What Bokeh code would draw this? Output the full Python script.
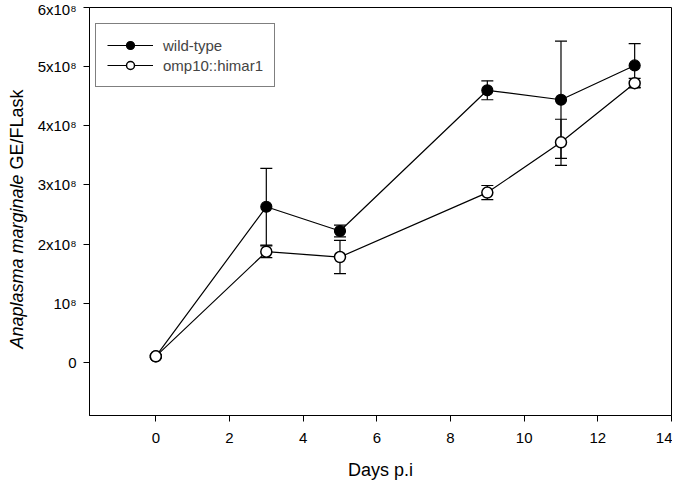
from bokeh.plotting import figure
from bokeh.models import (ColumnDataSource, Whisker, TeeHead, FixedTicker, Legend,
                          LegendItem, Range1d, Div)
from bokeh.layouts import row
from bokeh.embed import file_html
from bokeh.resources import INLINE

days = [0, 3, 5, 9, 11, 13]
wt_mean = [0.10e8, 2.63e8, 2.22e8, 4.60e8, 4.44e8, 5.02e8]
wt_err = [0.02e8, 0.65e8, 0.10e8, 0.16e8, 0.99e8, 0.37e8]
omp_mean = [0.10e8, 1.87e8, 1.78e8, 2.87e8, 3.72e8, 4.72e8]
omp_err = [0.02e8, 0.10e8, 0.28e8, 0.12e8, 0.39e8, 0.08e8]

x_ticks = [0, 2, 4, 6, 8, 10, 12, 14]
y_ticks = [0, 1e8, 2e8, 3e8, 4e8, 5e8, 6e8]
y_tick_labels = ["0", "10\u2078", "2x10\u2078", "3x10\u2078", "4x10\u2078", "5x10\u2078", "6x10\u2078"]
y_title_italic = "Anaplasma marginale"
y_title_rest = "GE/FLask"

FONT = "Liberation Sans"
DIV_W = 34

p = figure(width=672 - DIV_W, height=484, output_backend="svg", toolbar_location=None,
           x_range=Range1d(-1.8, 14), y_range=Range1d(-0.9e8, 6e8),
           min_border_left=88 - DIV_W, min_border_right=1, min_border_top=7, min_border_bottom=69)
p.xgrid.visible = False
p.ygrid.visible = False
p.outline_line_color = "black"
p.outline_line_width = 1

for ax in (p.xaxis[0], p.yaxis[0]):
    ax.major_tick_in = 0
    ax.major_tick_out = 6
    ax.minor_tick_in = 0
    ax.minor_tick_out = 0
    ax.axis_line_color = "black"
    ax.major_tick_line_color = "black"
    ax.major_label_text_font = FONT
    ax.major_label_text_font_size = "15px"
    ax.major_label_text_color = "black"

p.xaxis.ticker = FixedTicker(ticks=x_ticks)
p.yaxis.ticker = FixedTicker(ticks=y_ticks)
p.yaxis.major_label_overrides = {float(t): lab for t, lab in zip(y_ticks, y_tick_labels)}
p.yaxis.major_label_standoff = 7
p.xaxis.major_label_standoff = 11
p.xaxis.axis_label = "Days p.i"
p.xaxis.axis_label_text_font = FONT
p.xaxis.axis_label_text_font_style = "normal"
p.xaxis.axis_label_text_font_size = "18px"
p.xaxis.axis_label_text_color = "black"
p.xaxis.axis_label_standoff = 14

wt_src = ColumnDataSource(dict(x=days, y=wt_mean,
                               lo=[m - e for m, e in zip(wt_mean, wt_err)],
                               hi=[m + e for m, e in zip(wt_mean, wt_err)]))
omp_src = ColumnDataSource(dict(x=days, y=omp_mean,
                                lo=[m - e for m, e in zip(omp_mean, omp_err)],
                                hi=[m + e for m, e in zip(omp_mean, omp_err)]))

for src in (wt_src, omp_src):
    w = Whisker(source=src, base="x", lower="lo", upper="hi", line_color="black", line_width=1.2,
                upper_head=TeeHead(size=12, line_color="black", line_width=1.2),
                lower_head=TeeHead(size=12, line_color="black", line_width=1.2))
    p.add_layout(w)

wt_line = p.line("x", "y", source=wt_src, line_color="black", line_width=1.2)
omp_line = p.line("x", "y", source=omp_src, line_color="black", line_width=1.2)
wt_pts = p.scatter("x", "y", source=wt_src, size=11, marker="circle",
                   fill_color="black", line_color="black", line_width=1.2)
omp_pts = p.scatter("x", "y", source=omp_src, size=11, marker="circle",
                    fill_color="white", line_color="black", line_width=1.5)

legend = Legend(items=[LegendItem(label="wild-type", renderers=[wt_line, wt_pts]),
                       LegendItem(label="omp10::himar1", renderers=[omp_line, omp_pts])],
                location=(6, 328), glyph_width=46, glyph_height=20, label_height=20,
                label_standoff=10, padding=11, spacing=0, margin=0,
                label_text_font=FONT, label_text_font_size="15px",
                border_line_color="black", border_line_width=1,
                background_fill_alpha=1.0)
p.add_layout(legend)

title_html = (
    f'<div style="width:{DIV_W}px;height:437px;display:flex;align-items:center;'
    f'justify-content:center;">'
    f'<div style="transform:rotate(-90deg);white-space:nowrap;font-family:\'{FONT}\';'
    f'font-size:18px;color:black;line-height:22px;">'
    f'<i>{y_title_italic}</i> {y_title_rest}</div></div>'
)
ytitle = Div(text=title_html, width=DIV_W, height=437, margin=0)

layout = row(ytitle, p, spacing=0)
open("out.html", "w").write(file_html(layout, INLINE))
